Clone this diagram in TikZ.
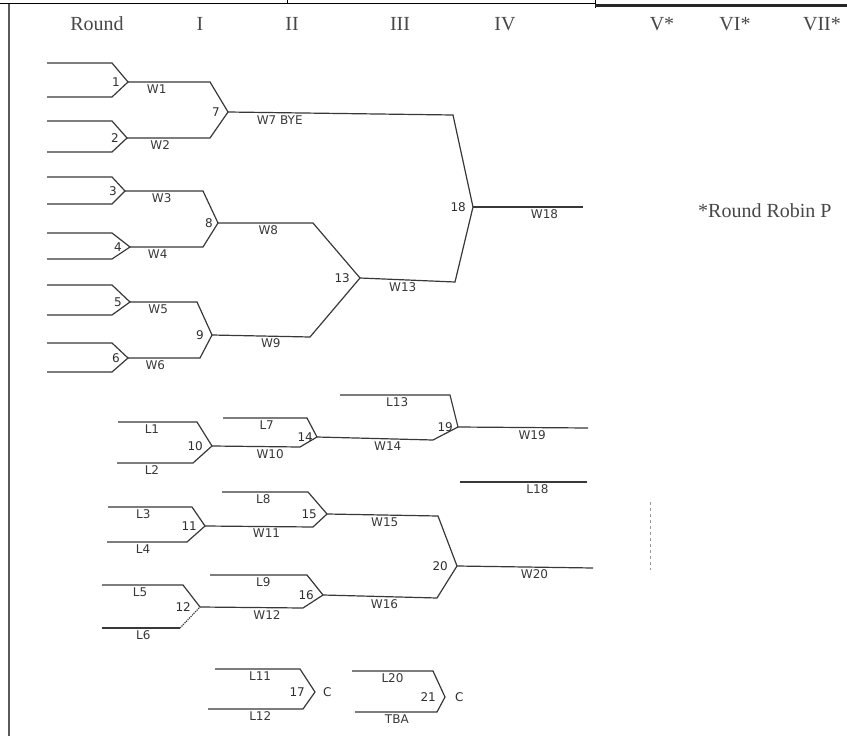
\documentclass[tikz,border=0pt]{standalone}
\usepackage{fontspec}
\setmainfont{Liberation Serif}
\newfontfamily\handfont{DejaVu Sans}
\usetikzlibrary{positioning}

\tikzset{
	bline/.style={draw=black!78, line width=1.2pt},
	wlbl/.style={below=1pt, font=\handfont\fontsize{12}{13}\selectfont, text=black!78, inner sep=1pt},
	nlbl/.style={font=\handfont\fontsize{12}{13}\selectfont, text=black!82, inner sep=1pt},
	hdr/.style={font=\fontsize{20}{22}\selectfont, text=black!72, inner sep=0pt},
}

\begin{document}
\begin{tikzpicture}[x=1pt, y=-1pt]
	\useasboundingbox (0,0) rectangle (847,736);

	% page frame
	\draw[black, line width=1pt] (0,3.5) -- (595,3.5);
	\draw[black, line width=1pt] (287,0) -- (287,4);
	\draw[black, line width=1pt] (595,0) -- (595,8);
	\draw[black!85, line width=3pt] (595,5.5) -- (847,5.5);
	\draw[black!65, line width=2.5pt] (9,4) -- (9,736);

	% round headings
	\node[hdr] (hr) at (97,24) {Round};
	\foreach \r/\x [count=\k] in {I/200, II/292, III/400, IV/505, V*/662, VI*/735, VII*/822}
		{\node[hdr] (h\k) at (\x,24) {\r};}
	\node[hdr, anchor=west] (rr) at (698,211) {*Round Robin P};

	% winners bracket, round I
	\foreach \n/\yt/\yb/\xm/\ym in {1/63/97/128/82, 2/121/152/127/138, 3/177/204/125/191, 4/233/259/130/247, 5/285/315/130/302, 6/343/372/128/358}
		{\coordinate (m\n) at (\xm,\ym);
		 \coordinate (top\n) at (47,\yt);
		 \coordinate (bot\n) at (47,\yb);
		 \draw[bline] (top\n) -- (112,\yt) -- (m\n) -- (112,\yb) -- (bot\n);
		 \node[nlbl, left=7pt of m\n] (n\n) {\n};}

	% winners bracket, rounds II to IV
	\coordinate (m7) at (228,112);
	\coordinate (m8) at (218,223);
	\coordinate (m9) at (212,335);
	\coordinate (m13) at (360,278);
	\coordinate (m18) at (473,207);
	\coordinate (e18) at (583,207);

	\draw[bline] (m1) -- node[wlbl, pos=0.35] (w1) {W1} (210,82) -- (m7);
	\draw[bline] (m2) -- node[wlbl, pos=0.4] (w2) {W2} (210,138) -- (m7);
	\draw[bline] (m3) -- node[wlbl, pos=0.47] (w3) {W3} (203,191) -- (m8);
	\draw[bline] (m4) -- node[wlbl, pos=0.38] (w4) {W4} (203,247) -- (m8);
	\draw[bline] (m5) -- node[wlbl, pos=0.42] (w5) {W5} (197,302) -- (m9);
	\draw[bline] (m6) -- node[wlbl, pos=0.38] (w6) {W6} (200,358) -- (m9);
	\draw[bline] (m7) -- node[wlbl, pos=0.23] (w7) {W7 BYE} (453,115) -- (m18);
	\draw[bline] (m8) -- node[wlbl, pos=0.53] (w8) {W8} (313,223) -- (m13);
	\draw[bline] (m9) -- node[wlbl, pos=0.6] (w9) {W9} (310,337) -- (m13);
	\draw[bline] (m13) -- node[wlbl, pos=0.45] (w13) {W13} (455,282) -- (m18);
	\draw[bline] (m18) -- node[wlbl, pos=0.65] (w18) {W18} (e18);

	\node[nlbl, left=7pt of m7] (n7) {7};
	\node[nlbl, left=4pt of m8] (n8) {8};
	\node[nlbl, left=7pt of m9] (n9) {9};
	\node[nlbl, left=9pt of m13] (n13) {13};
	\node[nlbl, left=6pt of m18] (n18) {18};

	% losers bracket, round I
	\coordinate (m10) at (212,446);
	\coordinate (m11) at (205,526);
	\coordinate (m12) at (200,607);
	\coordinate (a1) at (118,422);
	\coordinate (a2) at (117,463);
	\coordinate (a3) at (108,507);
	\coordinate (a4) at (107,542);
	\coordinate (a5) at (102,585);
	\coordinate (a6) at (102,628);

	\draw[bline] (a1) -- node[wlbl, pos=0.43] (l1) {L1} (197,422) -- (m10) -- (193,463) -- node[wlbl, pos=0.54] (l2) {L2} (a2);
	\draw[bline] (a3) -- node[wlbl, pos=0.42] (l3) {L3} (192,507) -- (m11) -- (187,542) -- node[wlbl, pos=0.55] (l4) {L4} (a4);
	\draw[bline] (a5) -- node[wlbl, pos=0.47] (l5) {L5} (183,585) -- (m12);
	\draw[bline] (a6) -- node[wlbl, pos=0.53] (l6) {L6} (180,628);
	\draw[bline, densely dotted] (180,628) -- (m12);

	\node[nlbl, left=8pt of m10] (n10) {10};
	\node[nlbl, left=7pt of m11] (n11) {11};
	\node[nlbl, left=8pt of m12] (n12) {12};

	% losers bracket, round II
	\coordinate (m14) at (317,437);
	\coordinate (m15) at (327,514);
	\coordinate (m16) at (323,595);
	\coordinate (a7) at (223,418);
	\coordinate (a8) at (222,492);
	\coordinate (a9) at (210,575);

	\draw[bline] (a7) -- node[wlbl, pos=0.52] (l7) {L7} (307,418) -- (m14);
	\draw[bline] (m10) -- node[wlbl, pos=0.66] (w10) {W10} (300,447) -- (m14);
	\draw[bline] (a8) -- node[wlbl, pos=0.48] (l8) {L8} (308,492) -- (m15);
	\draw[bline] (m11) -- node[wlbl, pos=0.57] (w11) {W11} (313,527) -- (m15);
	\draw[bline] (a9) -- node[wlbl, pos=0.55] (l9) {L9} (307,575) -- (m16);
	\draw[bline] (m12) -- node[wlbl, pos=0.65] (w12) {W12} (303,608) -- (m16);

	\node[nlbl, left=3pt of m14] (n14) {14};
	\node[nlbl, left=9pt of m15] (n15) {15};
	\node[nlbl, left=8pt of m16] (n16) {16};

	% losers bracket, rounds III and IV
	\coordinate (m19) at (458,427);
	\coordinate (m20) at (457,566);
	\coordinate (a13) at (340,395);
	\coordinate (e19) at (588,428);
	\coordinate (a18) at (460,482);
	\coordinate (b18) at (587,482);
	\coordinate (e20) at (593,568);

	\draw[bline] (a13) -- node[wlbl, pos=0.52] (l13) {L13} (450,395) -- (m19);
	\draw[bline] (m14) -- node[wlbl, pos=0.61] (w14) {W14} (433,440) -- (m19);
	\draw[bline] (m19) -- node[wlbl, pos=0.57] (w19) {W19} (e19);
	\draw[bline] (a18) -- node[wlbl, pos=0.61] (l18) {L18} (b18);
	\draw[bline] (m15) -- node[wlbl, pos=0.52] (w15) {W15} (438,516) -- (m20);
	\draw[bline] (m16) -- node[wlbl, pos=0.54] (w16) {W16} (437,598) -- (m20);
	\draw[bline] (m20) -- node[wlbl, pos=0.57] (w20) {W20} (e20);

	\node[nlbl, left=4pt of m19] (n19) {19};
	\node[nlbl, left=8pt of m20] (n20) {20};

	% consolation games
	\coordinate (m17) at (315,692);
	\coordinate (m21) at (445,697);
	\coordinate (a11) at (215,669);
	\coordinate (a12) at (208,709);
	\coordinate (a20) at (352,671);
	\coordinate (a21) at (355,712);

	\draw[bline] (a11) -- node[wlbl, pos=0.53] (l11) {L11} (300,669) -- (m17) -- (303,709) -- node[wlbl, pos=0.45] (l12) {L12} (a12);
	\draw[bline] (a20) -- node[wlbl, pos=0.5] (l20) {L20} (433,671) -- (m21) -- (437,712) -- node[wlbl, pos=0.49] (tba) {TBA} (a21);

	\node[nlbl, left=9pt of m17] (n17) {17};
	\node[nlbl, right=7pt of m17] (c17) {C};
	\node[nlbl, left=8pt of m21] (n21) {21};
	\node[nlbl, right=9pt of m21] (c21) {C};

	% stray mark on the sheet
	\draw[black!40, line width=1pt, dashed] (650,502) -- (650,570);
\end{tikzpicture}
\end{document}
